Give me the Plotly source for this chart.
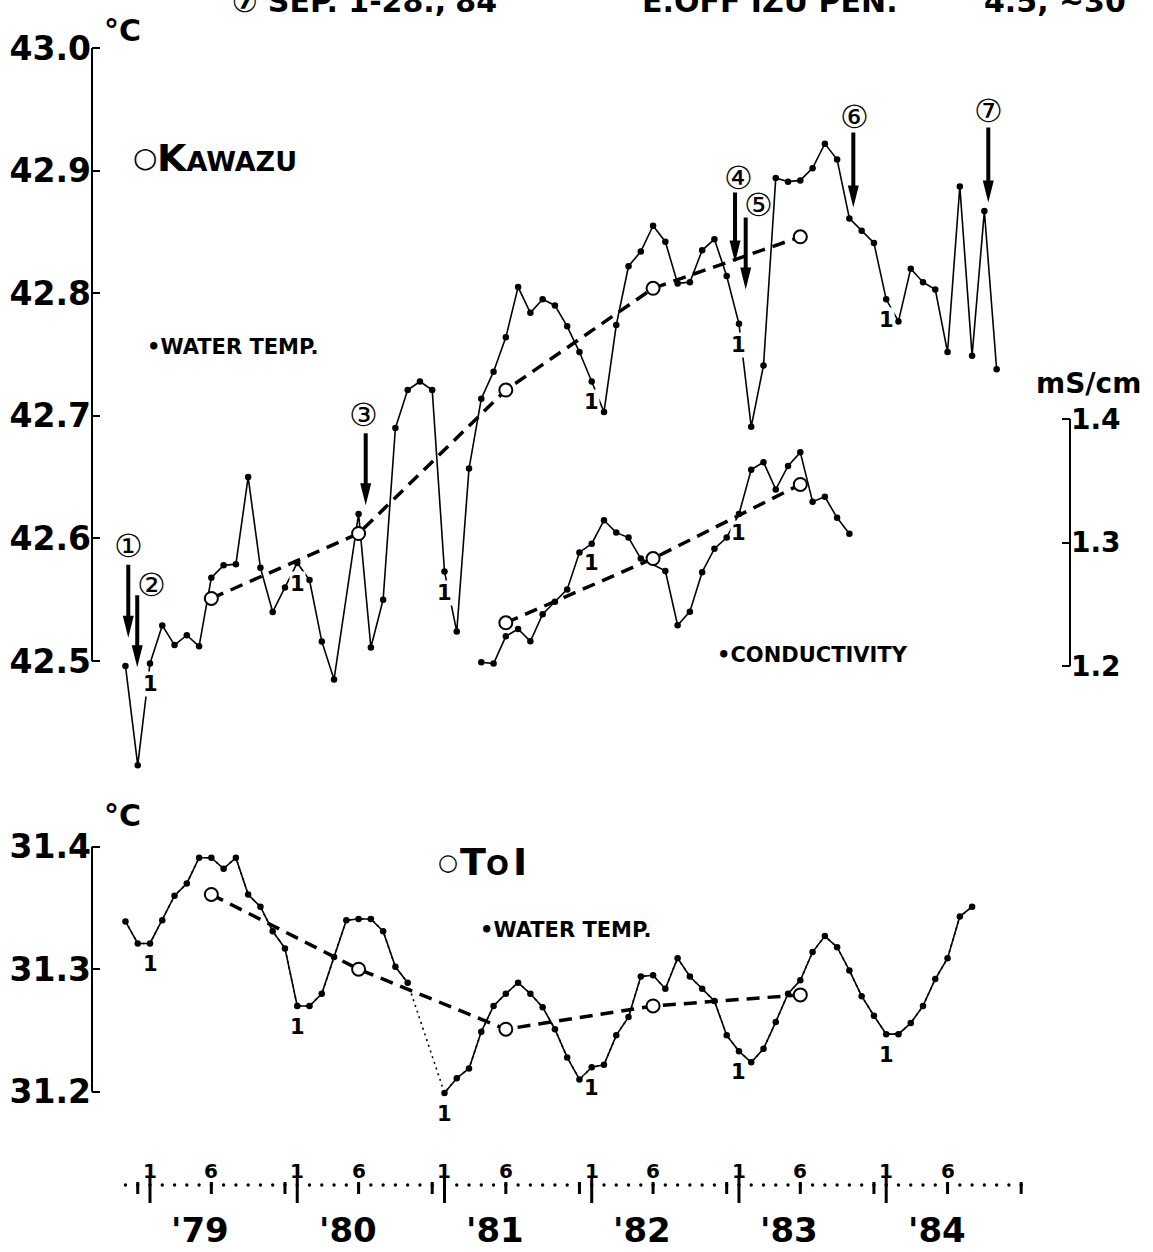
import plotly.graph_objects as go

# ---------------- data (x = month index, 0 = January 1979) ----------------
kaw_month = [-2, -1, 0, 1, 2, 3, 4, 5, 6, 7, 8, 9, 10, 11, 12, 13, 14, 15,
             17, 18, 19, 20, 21, 22, 23, 24, 25, 26, 27, 28, 29, 30, 31, 32, 33, 34, 35,
             36, 37, 38, 39, 40, 41, 42, 43, 44, 45, 46, 47, 48, 49, 50, 51, 52, 53,
             54, 55, 56, 57, 58, 59, 60, 61, 62, 63, 64, 65, 66, 67, 68, 69]
kaw_temp = [42.496, 42.415, 42.498, 42.529, 42.513, 42.521, 42.512, 42.568, 42.578, 42.579,
            42.650, 42.576, 42.540, 42.560, 42.580, 42.566, 42.516, 42.485,
            42.620, 42.511, 42.550, 42.690, 42.721, 42.728, 42.721, 42.573, 42.524, 42.657,
            42.714, 42.736, 42.764, 42.805, 42.784, 42.795, 42.790, 42.773, 42.752,
            42.728, 42.703, 42.774, 42.822, 42.834, 42.855, 42.842, 42.808, 42.809, 42.835,
            42.844, 42.814, 42.775, 42.691, 42.741, 42.894, 42.891, 42.892,
            42.902, 42.922, 42.909, 42.861, 42.851, 42.841, 42.795, 42.777, 42.820, 42.809,
            42.803, 42.752, 42.887, 42.749, 42.867, 42.738]
kaw_mean_month = [5, 17, 29, 41, 53]
kaw_mean_temp = [42.551, 42.604, 42.721, 42.804, 42.846]

cond_month = [27, 28, 29, 30, 31, 32, 33, 34, 35, 36, 37, 38, 39, 40,
              42, 43, 44, 45, 46, 47, 48, 49, 50, 51, 52, 53, 54, 55, 56, 57]
cond_val = [1.203, 1.202, 1.224, 1.230, 1.220, 1.242, 1.252, 1.262, 1.292, 1.299, 1.318,
            1.308, 1.304, 1.287,
            1.277, 1.233, 1.244, 1.276, 1.295, 1.304, 1.323, 1.359, 1.365, 1.343, 1.362,
            1.373, 1.333, 1.337, 1.320, 1.307]
cond_mean_month = [29, 41, 53]
cond_mean_val = [1.235, 1.287, 1.347]

toi_month = list(range(-2, 68))
toi_temp = [31.339, 31.321, 31.321, 31.340, 31.360, 31.370, 31.391, 31.391, 31.382, 31.391,
            31.361, 31.351, 31.331, 31.317, 31.270, 31.270, 31.280, 31.310, 31.340, 31.341,
            31.341, 31.331, 31.302, 31.289, None, None,
            31.199, 31.211, 31.219, 31.249, 31.270, 31.280, 31.289, 31.280, 31.269, 31.251,
            31.228, 31.210, 31.220, 31.222, 31.246, 31.261, 31.294, 31.295, 31.284, 31.309,
            31.294, 31.284, 31.274, 31.246, 31.233, 31.224, 31.235, 31.257, 31.280, 31.291,
            31.314, 31.327, 31.318, 31.299, 31.278, 31.262, 31.247, 31.247, 31.256, 31.270,
            31.292, 31.309, 31.343, 31.351]
toi_mean_month = [5, 17, 29, 41, 53]
toi_mean_temp = [31.361, 31.300, 31.251, 31.270, 31.279]

jan_months = [0, 12, 24, 36, 48, 60]
cond_jan_months = [36, 48]
year_labels = ["'79", "'80", "'81", "'82", "'83", "'84"]

event_labels = ["①", "②", "③", "④", "⑤", "⑥", "⑦"]
event_month = [-1.77, -1.04, 17.58, 47.68, 48.55, 57.32, 68.32]
event_temp = [42.519, 42.495, 42.627, 42.825, 42.803, 42.870, 42.874]

left_ticks_top = [42.5, 42.6, 42.7, 42.8, 42.9, 43.0]
right_ticks_top = [1.2, 1.3, 1.4]
left_ticks_bot = [31.2, 31.3, 31.4]

# ---------------- layout helpers (pixel placement) ----------------
W, H = 1153, 1252
PL, PR = 92, 1070          # plot area left / right in px
JAN79_PX, MONTH_PX = 150.0, 12.27


def xm(px):
    return (px - JAN79_PX) / MONTH_PX


def xp(px):
    return (px - PL) / (PR - PL)


def yp(py):
    return 1 - py / H


def v_top(py):
    return 42.5 + (661 - py) / 1226.0


def c_top(py):
    return 1.2 + (666 - py) / 1235.0


def v_bot(py):
    return 31.2 + (1091.7 - py) / 1225.0


FONT = "DejaVu Sans"
BLACK = "black"

fig = go.Figure()

line_style = dict(color=BLACK, width=1.6)
mark_style = dict(color=BLACK, size=6.5)
mean_line = dict(color=BLACK, width=3.5, dash="13px,8px")
mean_mark = dict(symbol="circle", size=13, color="white", line=dict(color=BLACK, width=2))

# Toi (bottom)
fig.add_trace(go.Scatter(x=toi_month, y=toi_temp, mode="lines", connectgaps=True,
                         line=dict(color=BLACK, width=1.6, dash="2px,4px"),
                         yaxis="y3", hoverinfo="skip"))
fig.add_trace(go.Scatter(x=toi_month, y=toi_temp, mode="lines+markers", connectgaps=False,
                         line=line_style, marker=mark_style, yaxis="y3"))
fig.add_trace(go.Scatter(x=toi_mean_month, y=toi_mean_temp, mode="lines+markers",
                         line=mean_line, marker=mean_mark, yaxis="y3"))
# Kawazu temperature
fig.add_trace(go.Scatter(x=kaw_month, y=kaw_temp, mode="lines+markers",
                         line=line_style, marker=mark_style, yaxis="y"))
fig.add_trace(go.Scatter(x=kaw_mean_month, y=kaw_mean_temp, mode="lines+markers",
                         line=mean_line, marker=mean_mark, yaxis="y"))
# Kawazu conductivity
fig.add_trace(go.Scatter(x=cond_month, y=cond_val, mode="lines+markers",
                         line=line_style, marker=mark_style, yaxis="y2"))
fig.add_trace(go.Scatter(x=cond_mean_month, y=cond_mean_val, mode="lines+markers",
                         line=mean_line, marker=mean_mark, yaxis="y2"))

shapes = []
annotations = []

# axis brackets
shapes.append(dict(type="line", xref="paper", yref="y", x0=0, x1=0,
                   y0=left_ticks_top[0], y1=left_ticks_top[-1], line=dict(color=BLACK, width=2)))
shapes.append(dict(type="line", xref="paper", yref="y2", x0=1, x1=1,
                   y0=right_ticks_top[0], y1=right_ticks_top[-1], line=dict(color=BLACK, width=2)))
shapes.append(dict(type="line", xref="paper", yref="y3", x0=0, x1=0,
                   y0=left_ticks_bot[0], y1=left_ticks_bot[-1], line=dict(color=BLACK, width=2)))

# event arrows (path in pixels relative to the arrow tip)
arrow_len = [73, 72, 72, 70, 72, 75, 75]
label_dx = [0, 14, -2, 3, 13, 1, 0]
label_dy = [92, 82, 90, 85, 85, 90, 91]
for lab, m, v, L, dx, dy in zip(event_labels, event_month, event_temp, arrow_len, label_dx, label_dy):
    shapes.append(dict(type="path", xref="x", yref="y", xsizemode="pixel", ysizemode="pixel",
                       xanchor=m, yanchor=v,
                       path=f"M0,0 L-5.5,22 L-2,22 L-2,{L} L2,{L} L2,22 L5.5,22 Z",
                       fillcolor=BLACK, line=dict(width=0)))
    annotations.append(dict(xref="x", yref="y", x=m, y=v, xshift=dx, yshift=dy, text=lab,
                            showarrow=False, xanchor="center", yanchor="middle",
                            font=dict(family=FONT, size=32, color=BLACK)))

# January "1" marks beside the series
lab_font = dict(family=FONT, size=21, color=BLACK, weight="bold")
kd = dict(zip(kaw_month, kaw_temp))
td = dict(zip(toi_month, toi_temp))
cd = dict(zip(cond_month, cond_val))
for m in jan_months:
    annotations.append(dict(xref="x", yref="y", x=m, y=kd[m], yshift=-21, text="1",
                            showarrow=False, font=lab_font, bgcolor="white", borderpad=0,
                            xanchor="center", yanchor="middle"))
    annotations.append(dict(xref="x", yref="y3", x=m, y=td[m], yshift=-21, text="1",
                            showarrow=False, font=lab_font, bgcolor="white", borderpad=0,
                            xanchor="center", yanchor="middle"))
for m in cond_jan_months:
    annotations.append(dict(xref="x", yref="y2", x=m, y=cd[m], yshift=-19, text="1",
                            showarrow=False, font=lab_font, bgcolor="white", borderpad=0,
                            xanchor="center", yanchor="middle"))

# time axis at the bottom
row_line = 1185
for m in range(-2, 72):
    shapes.append(dict(type="circle", xref="x", yref="paper", xsizemode="pixel", ysizemode="pixel",
                       xanchor=m, yanchor=yp(row_line), x0=-1.7, x1=1.7, y0=-1.7, y1=1.7,
                       fillcolor=BLACK, line=dict(width=0)))
small_font = dict(family=FONT, size=20, color=BLACK, weight="bold")
for k, m in enumerate(jan_months):
    shapes.append(dict(type="line", xref="x", yref="paper", x0=m, x1=m,
                       y0=yp(1176), y1=yp(1203), line=dict(color=BLACK, width=3)))
    shapes.append(dict(type="line", xref="x", yref="paper", x0=m + 5, x1=m + 5,
                       y0=yp(1182), y1=yp(1194), line=dict(color=BLACK, width=3)))
    shapes.append(dict(type="line", xref="x", yref="paper", x0=m - 1, x1=m - 1,
                       y0=yp(1182), y1=yp(1194), line=dict(color=BLACK, width=3)))
    annotations.append(dict(xref="x", yref="paper", x=m, y=yp(1171), text="1", showarrow=False,
                            xanchor="center", yanchor="middle", font=small_font))
    annotations.append(dict(xref="x", yref="paper", x=m + 5, y=yp(1171), text="6", showarrow=False,
                            xanchor="center", yanchor="middle", font=small_font))
    annotations.append(dict(xref="x", yref="paper", x=m + 4.1, y=yp(1230), text=year_labels[k],
                            showarrow=False, xanchor="center", yanchor="middle",
                            font=dict(family=FONT, size=34, color=BLACK, weight="bold")))
shapes.append(dict(type="line", xref="x", yref="paper", x0=71, x1=71,
                   y0=yp(1182), y1=yp(1194), line=dict(color=BLACK, width=3)))


def txt(px, py, text, size, xanchor="left", yanchor="middle", bold=True):
    f = dict(family=FONT, size=size, color=BLACK)
    if bold:
        f["weight"] = "bold"
    annotations.append(dict(xref="paper", yref="paper", x=xp(px), y=yp(py), text=text,
                            showarrow=False, xanchor=xanchor, yanchor=yanchor, font=f))


# header line (cut at the top edge, as in the scan)
txt(230, 2, "⑦ SEP. 1-28.,'84", 30)
txt(640, 2, "E.OFF IZU PEN.", 30)
txt(1128, 2, "4.5, ~30", 30, xanchor="right")

txt(122, 30, "°C", 30, xanchor="center")
txt(122, 815, "°C", 30, xanchor="center")
# station names
txt(145, 157, "○", 28, xanchor="center", bold=False)
txt(155, 158, "K<span style='font-size:27px'>AWAZU</span>", 38)
txt(448, 862, "○", 23, xanchor="center", bold=False)
txt(458, 862, "T<span style='font-size:27px'>O</span><span style='font-size:12px'> </span>I", 38)
txt(145, 347, "•WATER TEMP.", 21)
txt(478, 930, "•WATER TEMP.", 21)
txt(715, 655, "•CONDUCTIVITY", 21)
txt(1034, 383, "mS/cm", 28)

tick_font = dict(family=FONT, size=33, color=BLACK, weight="bold")
fig.update_layout(
    width=W, height=H,
    margin=dict(l=PL, r=W - PR, t=0, b=0, autoexpand=False),
    paper_bgcolor="white", plot_bgcolor="rgba(0,0,0,0)",
    showlegend=False,
    xaxis=dict(domain=[0, 1], range=[xm(PL), xm(PR)], visible=False, fixedrange=True,
               automargin=False),
    yaxis=dict(domain=[yp(790), yp(40)], range=[v_top(790), v_top(40)], anchor="x",
               tickvals=left_ticks_top, ticktext=[f"{t:.1f}" for t in left_ticks_top],
               ticks="inside", ticklen=8, tickwidth=2, tickcolor=BLACK, showline=False,
               showgrid=False, zeroline=False, tickfont=tick_font, automargin=False),
    yaxis2=dict(overlaying="y", side="right", anchor="x", range=[c_top(790), c_top(40)],
                tickvals=right_ticks_top, ticktext=[f"{t:.1f}" for t in right_ticks_top],
                ticks="inside", ticklen=8, tickwidth=2, tickcolor=BLACK, showline=False,
                showgrid=False, zeroline=False, automargin=False,
                tickfont=dict(family=FONT, size=28, color=BLACK, weight="bold")),
    yaxis3=dict(domain=[yp(1110), yp(825)], range=[v_bot(1110), v_bot(825)], anchor="x",
                tickvals=left_ticks_bot, ticktext=[f"{t:.1f}" for t in left_ticks_bot],
                ticks="inside", ticklen=8, tickwidth=2, tickcolor=BLACK, showline=False,
                showgrid=False, zeroline=False, tickfont=tick_font, automargin=False),
    shapes=shapes,
    annotations=annotations,
)

# remove the browser's default 8px body margin so the figure sits at the window's corner
fig.write_html("out.html", config={"displayModeBar": False},
               post_script="document.body.style.margin='0px';")
